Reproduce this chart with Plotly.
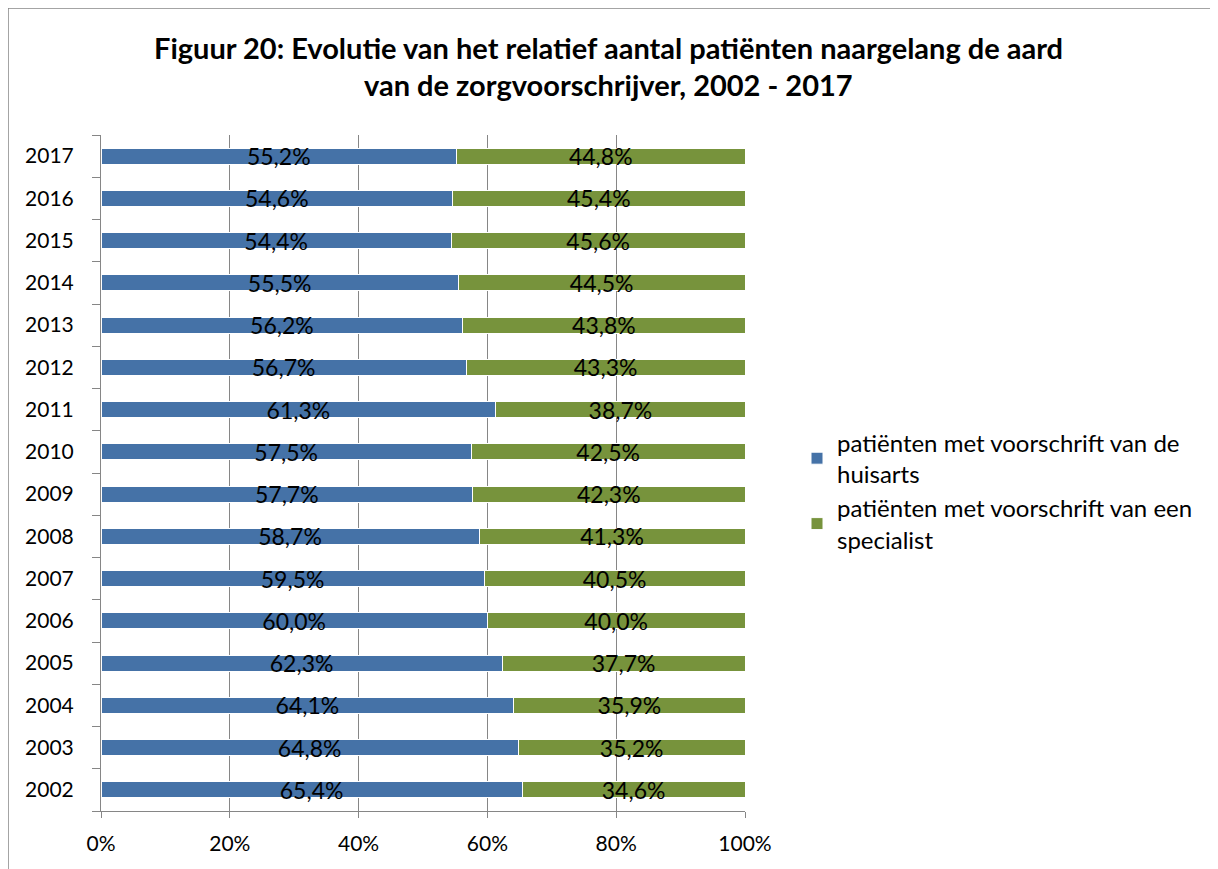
import plotly.graph_objects as go

# Data
years = ['2002', '2003', '2004', '2005', '2006', '2007', '2008', '2009',
         '2010', '2011', '2012', '2013', '2014', '2015', '2016', '2017']
huisarts = [65.4, 64.8, 64.1, 62.3, 60.0, 59.5, 58.7, 57.7,
            57.5, 61.3, 56.7, 56.2, 55.5, 54.4, 54.6, 55.2]
specialist = [34.6, 35.2, 35.9, 37.7, 40.0, 40.5, 41.3, 42.3,
              42.5, 38.7, 43.3, 43.8, 44.5, 45.6, 45.4, 44.8]
x_ticks = [0, 20, 40, 60, 80, 100]
x_ticktext = ['0%', '20%', '40%', '60%', '80%', '100%']
name_huisarts = 'patiënten met voorschrift van de<br>huisarts'
name_specialist = 'patiënten met voorschrift van een<br>specialist'
title_lines = ['Figuur 20: Evolutie van het relatief aantal patiënten naargelang de aard',
               'van de zorgvoorschrijver, 2002 - 2017']

FONT = 'Lato, Carlito, Calibri, sans-serif'
BLUE = '#4572A7'
GREEN = '#77933C'
GRAY = '#868686'


def pct(v):
    return f"{v:.1f}%".replace('.', ',')


fig = go.Figure()
for vals, name, color in [(huisarts, name_huisarts, BLUE),
                          (specialist, name_specialist, GREEN)]:
    fig.add_trace(go.Bar(
        y=years, x=vals, name=name, orientation='h',
        marker=dict(color=color, line=dict(color='white', width=1)),
        text=[pct(v) for v in vals],
        textposition='inside', insidetextanchor='middle',
        constraintext='none',
        textfont=dict(family=FONT, size=23, color='black'),
    ))

# page has an 8px body margin; positions below are screen pixels
OFF = 8
W, H = 1218 - OFF, 869 - OFF
L, R, T, B = 101 - OFF, 745 - OFF, 135 - OFF, 811 - OFF
pw, ph = R - L, B - T


def px_x(p):
    return (p - OFF - L) / pw


def px_y(p):
    return (B - (p - OFF)) / ph


fig.update_layout(
    barmode='stack',
    bargap=0.62,
    width=W, height=H,
    margin=dict(l=L, r=W - R, t=T, b=H - B, pad=0),
    plot_bgcolor='white', paper_bgcolor='white',
    font=dict(family=FONT, size=19, color='black'),
    showlegend=True,
    legend=dict(
        x=px_x(797), xanchor='left',
        y=px_y(491), yanchor='middle',
        font=dict(size=24),
        traceorder='normal',
        bgcolor='rgba(0,0,0,0)',
    ),
    shapes=[dict(type='rect', xref='paper', yref='paper',
                 x0=px_x(8), x1=px_x(1215), y0=px_y(900), y1=px_y(8),
                 line=dict(color=GRAY, width=1.5), layer='below')],
    annotations=[
        dict(text='<b>' + title_lines[0] + '</b>', xref='paper', yref='paper',
             x=px_x(608), y=px_y(47), xanchor='center', yanchor='middle',
             showarrow=False, font=dict(size=29)),
        dict(text='<b>' + title_lines[1] + '</b>', xref='paper', yref='paper',
             x=px_x(608), y=px_y(85), xanchor='center', yanchor='middle',
             showarrow=False, font=dict(size=29)),
    ],
)

fig.update_xaxes(
    range=[0, 100], tickvals=x_ticks, ticktext=x_ticktext,
    showgrid=True, gridcolor=GRAY, gridwidth=1,
    showline=True, linecolor=GRAY, linewidth=1,
    ticks='outside', ticklen=6, tickcolor=GRAY,
    ticklabelstandoff=8, zeroline=False,
    tickfont=dict(size=21),
)
fig.update_yaxes(
    categoryorder='array', categoryarray=years,
    range=[-0.5, len(years) - 0.5],
    showgrid=False,
    showline=True, linecolor=GRAY, linewidth=1,
    ticks='outside', ticklen=8, tickcolor=GRAY,
    tickson='boundaries', ticklabelstandoff=22,
    tickfont=dict(size=21),
)

fig.write_html("out.html")
